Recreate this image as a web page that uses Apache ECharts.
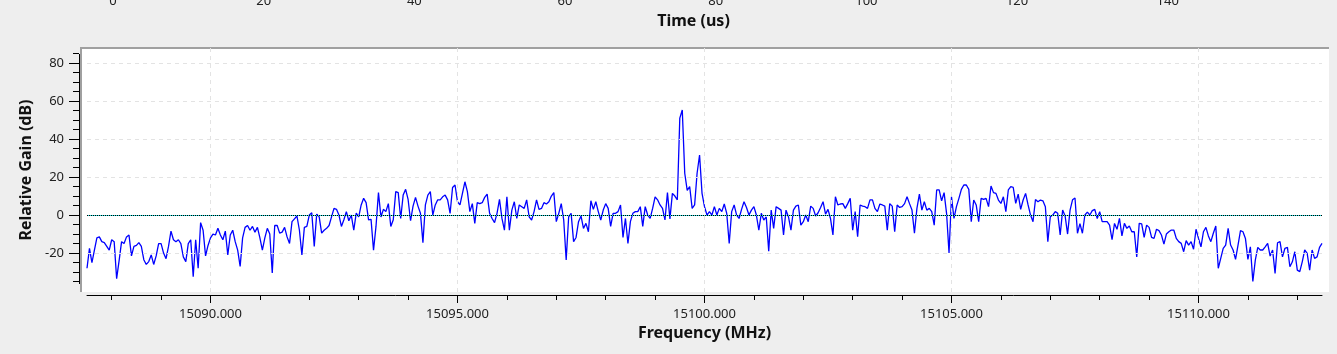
<!DOCTYPE html>
<html>
<head>
<meta charset="utf-8">
<title>Relative Gain vs Frequency</title>
<script src="https://cdn.jsdelivr.net/npm/echarts@6/dist/echarts.min.js"></script>
<style>
    html, body { margin: 0; padding: 0; background: #eeeeee; }
    #main { width: 1337px; height: 354px; }
</style>
</head>
<body>
<div id="main"></div>
<script>
// sweep: first sample and spacing (MHz)
var freqStart = 15087.5;
var freqStep = 0.05;

// relative gain (dB), one value per sample
var gains = [
    -28, -17.5, -25, -18.5, -12, -11.5, -14, -14.5, -16.5, -18.5, -13, -14, -33.5, -24, -14, -15, -11.5, -10.5, -21.5, -16.5,
    -16, -14.5, -16.5, -23.5, -26, -24.5, -21, -26, -21.5, -15, -15, -20, -23, -16.5, -8.5, -13, -14, -13, -15, -22,
    -24.5, -15, -13, -32.5, -13, -28, -4, -8, -21.5, -16, -12, -10, -10.5, -7, -10.5, -13, -8.5, -21, -10.5, -8,
    -14, -18.5, -27, -12, -6.5, -5.5, -8, -6, -9, -6.5, -12, -18.5, -12, -7, -10, -30.5, -5.5, -5.5, -9.5, -9,
    -6.5, -11.5, -15, -3.5, -2, -0.5, -8, -21, -6.5, -6, 0, 1.2, -16.5, 0.5, -1, -9.5, -8, -7, -5.5, -1,
    3.5, 3, 0, -6, -2.5, 1.8, -3, 0, -8, 1, -1, 5.3, 8.8, 6.5, -2.5, -2.3, -18.5, -6, 11.8, -1,
    3, 1.8, 6, -6, -2.5, 12.3, 11.8, -1.8, 10.5, 13.5, 8.2, -3, 4.7, 9.3, 4.7, 0.9, -14.5, 5.3, 10.5, 12.3,
    0, 5.3, 8, 8, 9.6, 10.5, 8, 0.9, 14.5, 15.8, 7, 5.3, 11.4, 17.5, 12.3, 1.8, 6, -4.4, 6.5, 6,
    6.5, 9.3, 11, 0.9, -1.8, -4, 0.9, 8.2, -1.8, -8, 9.6, -8, 2.6, 7, -1.8, 5.3, 4.4, 3.5, 8, -1,
    -2.6, 1.8, 8, 3, 3.5, 6.5, 5.8, 7, 10, 11.8, -3.5, 0.9, 6, -2.6, -23.7, -1, 0.9, -14, -11.8, -3.5,
    -0.5, -7, -4.4, -8.8, 7.5, 3, 7, 1.8, -2.6, 2.6, 6, 3.5, -6, 0.9, 0.9, 1.8, 5.3, -11.8, -1.8, -15,
    -3.5, 0.9, 1.8, 1.8, 4.4, -6, 4.4, 0, -1.8, 3.5, 9.6, 8, 5.3, 3.5, -2.6, 11.8, -2, 11.4, 10, 8,
    51, 55.3, 22, 13, 15, 3.5, 5.3, 22, 31.6, 11.4, 4.4, 0, 1.8, 0, 4.4, 0, 3.5, 1.8, 5.8, 0.9,
    -15, 1.8, 5.3, 0, -1.8, 3, 7, 4, 0, 2.6, 4.4, 0, -8, 0.9, -2.6, -1, -19, 2.6, -7, 4.4,
    3.5, 2.6, -10.5, 2.6, -1, -8, 2.6, 4.7, 5.3, -5.3, -3.5, 0, -3.5, 4.7, 3.5, -0.5, 1.2, 4, 7, 0.5,
    3, -1.8, -10.5, 9.6, 5.3, 5.8, 6, 3.5, 6, 8.8, -8, 1.8, -11.4, 5.3, 4.7, 4.4, 3.5, 8, 8, 3.5,
    1.8, 5.8, 5.3, 4.7, -8, 6, 4.7, -8.8, 5.3, 4, 4.4, 6, 9.6, 6, 2.6, -9.6, 3.5, 11, 2.6, 7,
    2.6, 3.5, 1.8, -5.3, 13.2, 13.2, 7.5, 11.8, 0.9, -20, 9.6, -1.8, 4.4, 8.8, 13.5, 15.8, 15.8, 13.5, -3.5, 7.9,
    5.3, -3.5, 8.8, 8.2, 8.8, 4.4, 15.3, 11.8, 11.4, 7.9, 6.1, 9.6, 1.8, 13.2, 14.9, 14.5, 6.1, 11, 3, 7.9,
    11.4, 5.3, 0, -3.5, 8.2, 7, 7.9, 7.5, 4.4, -14, -0.9, 0, 1.8, 0.9, -10.5, 2.6, -0.5, -10, 2.6, 8,
    9, -9.6, -4.5, -9.6, 0, 1.5, 0, 2.3, 3, -1.8, 1.8, -3.5, -3.5, -3.5, -5.3, -13, -4.4, -7.5, -1.8, -11,
    -4.4, -7, -5.8, -8.8, -8.8, -22, -4.4, -4.7, -11.8, -5.3, -6.5, -11.8, -12.3, -7.5, -8.2, -10.5, -15.3, -10, -8.8, -7.9,
    -7.9, -12.3, -14, -14.9, -19.3, -13.5, -15.8, -14, -18, -7.5, -12.3, -16.7, -8.8, -6.5, -11, -14, -9.6, -5.8, -28, -22.8,
    -17.5, -15.8, -7, -15.8, -18.4, -23.3, -15.8, -8.2, -8.8, -12.3, -23.3, -16.7, -35, -23.7, -17, -18.4, -18.4, -16.7, -14.9, -21.6,
    -18.4, -30.7, -14.6, -14, -22, -17.5, -17, -27.2, -24.6, -19.3, -29, -29.8, -24.6, -18.4, -20.2, -29, -18.4, -22.8, -22, -17,
    -14.9
];

// axis ticks
var freqTicks = [15090, 15095, 15100, 15105, 15110];
var freqMinorTicks = [15088, 15089, 15090, 15091, 15092, 15093, 15094, 15095, 15096, 15097, 15098, 15099, 15100,
    15101, 15102, 15103, 15104, 15105, 15106, 15107, 15108, 15109, 15110, 15111, 15112];
var gainTicks = [-20, 0, 20, 40, 60, 80];
var gainMinorTicks = [-35, -30, -25, -20, -15, -10, -5, 0, 5, 10, 15, 20, 25, 30, 35, 40, 45, 50, 55, 60, 65, 70, 75, 80, 85];
var gainGridLines = [-20, 20, 40, 60, 80];
var timeTicks = [0, 20, 40, 60, 80, 100, 120, 140];

(function () {
    var chart = echarts.init(document.getElementById('main'));

    var points = gains.map(function (g, i) {
        return [+(freqStart + i * freqStep).toFixed(2), g];
    });

    var gridLineStyle = {color: '#e3e3e3', type: [4, 4], width: 1};
    var gridMarks = [];
    gainGridLines.forEach(function (v) {
        gridMarks.push({yAxis: v});
    });
    freqTicks.forEach(function (v) {
        gridMarks.push({xAxis: v});
    });

    var tickFont = {fontFamily: 'Noto Sans', fontSize: 13, color: '#222'};
    var titleFont = {fontFamily: 'Noto Sans', fontSize: 16, fontWeight: 'bold', color: '#111'};

    var option = {
        backgroundColor: '#eeeeee',
        animation: false,
        textStyle: {fontFamily: 'Noto Sans'},
        graphic: [
            // sunken white plot panel
            {type: 'rect', z: -100, silent: true, shape: {x: 81, y: 47, width: 1248, height: 245}, style: {fill: '#ffffff'}},
            {type: 'rect', z: -99, silent: true, shape: {x: 80, y: 47, width: 1249, height: 2}, style: {fill: '#a0a0a0'}},
            {type: 'rect', z: -99, silent: true, shape: {x: 80, y: 47, width: 2, height: 245}, style: {fill: '#a0a0a0'}},
            // y axis line
            {type: 'rect', z: 10, silent: true, shape: {x: 79, y: 54, width: 1, height: 230}, style: {fill: '#000'}}
        ],
        grid: [
            {left: 87, right: 15, top: 48, bottom: 62},
            {left: 113, width: 1161, top: -20, height: 10}
        ],
        xAxis: [
            {
                type: 'value', gridIndex: 0, position: 'bottom', offset: 3,
                min: 15087.5, max: 15112.5,
                axisLine: {show: true, onZero: false, lineStyle: {color: '#000', width: 1}},
                axisTick: {show: true, customValues: freqTicks, length: 8, lineStyle: {color: '#000'}},
                axisLabel: {
                    customValues: freqTicks, margin: 13,
                    fontFamily: tickFont.fontFamily, fontSize: tickFont.fontSize, color: tickFont.color,
                    formatter: function (v) { return v.toFixed(3); }
                },
                splitLine: {show: false},
                name: 'Frequency (MHz)', nameLocation: 'middle', nameGap: 30,
                nameTextStyle: titleFont
            },
            {
                type: 'value', gridIndex: 0, position: 'bottom', offset: 3,
                min: 15087.5, max: 15112.5,
                axisLine: {show: false, onZero: false},
                axisTick: {show: true, customValues: freqMinorTicks, length: 5, lineStyle: {color: '#000'}},
                axisLabel: {show: false},
                splitLine: {show: false}
            },
            {
                type: 'value', gridIndex: 1, position: 'bottom',
                min: 0, max: 154.1, interval: 20,
                axisLine: {show: false, onZero: false},
                axisTick: {show: false},
                axisLabel: {
                    customValues: timeTicks, margin: 2,
                    fontFamily: tickFont.fontFamily, fontSize: tickFont.fontSize, color: tickFont.color
                },
                splitLine: {show: false},
                name: 'Time (us)', nameLocation: 'middle', nameGap: 21,
                nameTextStyle: titleFont
            }
        ],
        yAxis: [
            {
                type: 'value', gridIndex: 0, position: 'left', offset: 8,
                min: -40.5, max: 87.9,
                axisLine: {show: false, onZero: false},
                axisTick: {show: true, customValues: gainTicks, length: 10, lineStyle: {color: '#000'}},
                axisLabel: {
                    customValues: gainTicks, margin: 15,
                    fontFamily: tickFont.fontFamily, fontSize: tickFont.fontSize, color: tickFont.color
                },
                splitLine: {show: false},
                name: 'Relative Gain (dB)', nameLocation: 'middle', nameGap: 45,
                nameTextStyle: titleFont
            },
            {
                type: 'value', gridIndex: 0, position: 'left', offset: 8,
                min: -40.5, max: 87.9,
                axisLine: {show: false, onZero: false},
                axisTick: {show: true, customValues: gainMinorTicks, length: 6, lineStyle: {color: '#000'}},
                axisLabel: {show: false},
                splitLine: {show: false}
            },
            {
                // companion axis for the time strip at the top
                type: 'value', gridIndex: 1, min: 0, max: 1, show: false
            }
        ],
        series: [
            {
                // dashed grid
                name: 'grid', type: 'line', xAxisIndex: 0, yAxisIndex: 0, z: 1,
                data: [],
                markLine: {
                    silent: true, symbol: 'none', label: {show: false},
                    lineStyle: gridLineStyle,
                    data: gridMarks
                }
            },
            {
                name: 'gain', type: 'line', xAxisIndex: 0, yAxisIndex: 0, z: 3,
                data: points,
                showSymbol: false,
                sampling: 'none',
                lineStyle: {color: '#0000ff', width: 1.3},
                markLine: {
                    silent: true, symbol: 'none', label: {show: false},
                    data: [
                        {yAxis: 0, lineStyle: {color: '#22dddd', type: 'solid', width: 1}},
                        {yAxis: 0, lineStyle: {color: '#000000', type: [1, 1], width: 1}}
                    ]
                }
            }
        ]
    };

    chart.setOption(option);
})();
</script>
</body>
</html>
